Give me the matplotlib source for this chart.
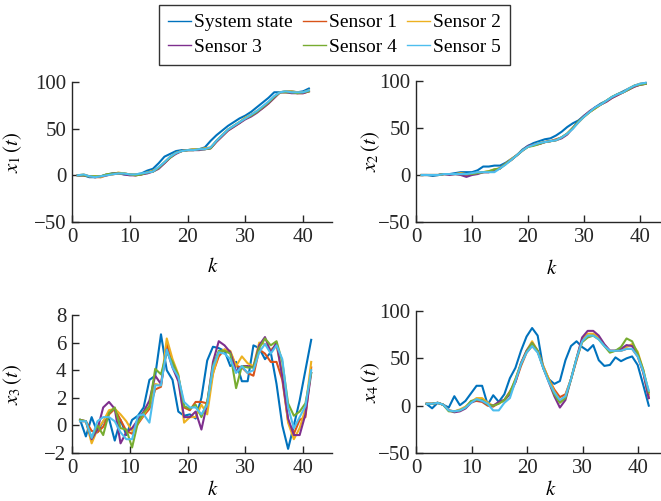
import numpy as np
import matplotlib
matplotlib.use("Agg")
import matplotlib.pyplot as plt

plt.rcParams['font.family'] = ['Liberation Serif', 'DejaVu Serif']
plt.rcParams['mathtext.fontset'] = 'stix'

# Data
names = ["System state", "Sensor 1", "Sensor 2", "Sensor 3", "Sensor 4", "Sensor 5"]
colors = ['#0072BD', '#D95319', '#EDB120', '#7E2F8E', '#77AC30', '#4DBEEE']

k_top = list(range(1, 42))
k_x3 = [v + 0.4 for v in range(1, 42)]
k_x4 = [v - 0.1 for v in range(2, 43)]

x1_state = [0, 0, -2, -2, -1, 1, 2, 2.5, 1, 0.5, 1, 2, 5, 7, 13, 20, 23, 26, 27, 27, 28, 28, 30, 37, 43, 48, 53, 57, 61, 64, 68, 73, 78, 83, 89, 89, 90, 90, 89, 90, 93]
x1_s1 = [0, 0, -1, -2, -2, 0, 1, 2, 2, 1, 0, 1, 3, 4, 8, 13, 19, 24, 26, 27, 27, 28, 28, 29, 36, 42, 48, 52, 56, 61, 64, 68, 72, 77, 83, 89, 89, 89, 88, 88, 90]
x1_s2 = [0, 1, -1, -1, -2, 1, 1, 3, 2, 1, 1, 1, 3, 5, 8, 14, 20, 24, 26, 27, 28, 28, 29, 30, 37, 43, 49, 53, 57, 62, 65, 69, 73, 78, 84, 89, 90, 90, 89, 89, 91]
x1_s3 = [0, 0, -1, -2, -1, 0, 2, 2, 1, 0, 0, 1, 2, 4, 7, 13, 19, 23, 26, 27, 27, 27, 28, 29, 36, 42, 48, 52, 56, 60, 63, 67, 72, 77, 83, 89, 89, 88, 88, 88, 90]
x1_s4 = [0, 0, -1, -1, -1, 1, 2, 2, 2, 1, 0, 1, 3, 4, 8, 14, 19, 24, 26, 27, 27, 28, 28, 29, 37, 43, 49, 53, 57, 61, 64, 68, 73, 78, 84, 89, 89, 89, 88, 89, 90]
x1_s5 = [0, 1, -1, -2, -1, 0, 1, 2, 2, 1, 1, 2, 3, 4, 9, 14, 20, 24, 26, 27, 27, 28, 28, 30, 37, 43, 49, 53, 57, 61, 65, 69, 74, 79, 85, 89, 90, 89, 89, 89, 91]

x2_state = [0, 0, -1, 0, 1, 1, 2, 3, 3, 3, 5, 9, 9, 10, 10, 13, 17, 21, 27, 31, 34, 36, 38, 39, 42, 46, 51, 55, 58, 63, 67, 72, 76, 79, 83, 86, 89, 92, 95, 97, 98]
x2_s1 = [0, 0, 0, 0, 1, 1, 1, 1, 0, 1, 2, 3, 3, 5, 7, 12, 16, 21, 26, 30, 32, 33, 35, 36, 38, 40, 44, 50, 56, 62, 67, 71, 75, 78, 82, 85, 88, 91, 94, 96, 97]
x2_s2 = [0, 0, 0, 0, 1, 1, 1, 2, 1, 1, 2, 3, 4, 6, 7, 12, 17, 21, 26, 30, 32, 34, 35, 36, 37, 40, 44, 50, 56, 62, 67, 71, 75, 79, 83, 86, 88, 92, 95, 97, 97]
x2_s3 = [0, 0, 0, 0, 1, 0, 1, 0, -2, 0, 1, 3, 3, 5, 7, 12, 16, 21, 26, 31, 32, 33, 35, 36, 37, 39, 43, 50, 57, 63, 68, 72, 75, 78, 82, 85, 88, 91, 94, 96, 97]
x2_s4 = [0, 0, 0, 0, 1, 1, 1, 1, 1, 1, 2, 3, 4, 6, 7, 12, 16, 21, 26, 30, 31, 33, 35, 36, 37, 40, 44, 50, 57, 62, 67, 71, 75, 79, 83, 86, 88, 91, 95, 96, 97]
x2_s5 = [0, 0, 0, 0, 1, 1, 1, 1, 1, 2, 3, 3, 3, 3, 7, 11, 16, 21, 26, 30, 32, 34, 35, 36, 37, 40, 44, 49, 56, 62, 67, 72, 75, 79, 83, 86, 88, 92, 95, 97, 98]

x3_state = [0.4, -0.8, 0.6, -0.5, 0.3, 0.5, -1.1, 0.4, -0.7, 0.4, 0.7, 1.3, 3.3, 3.6, 6.6, 4.0, 3.3, 1.0, 0.7, 0.8, 0.5, 2.0, 4.7, 5.7, 5.6, 5.4, 4.3, 4.6, 3.2, 3.2, 5.8, 5.6, 4.8, 5.3, 3.0, 0.0, -1.7, 0.0, 1.8, 4.0, 6.2]
x3_s1 = [0.3, 0.3, -0.4, -0.5, -0.1, 0.8, 1.2, 0.4, -0.4, -0.6, 0.1, 0.7, 1.2, 2.6, 2.8, 5.9, 4.6, 3.5, 1.3, 1.1, 1.7, 1.7, 1.6, 3.8, 5.0, 5.5, 5.3, 4.3, 4.2, 3.8, 3.6, 5.5, 5.2, 4.6, 4.6, 3.3, 0.3, -0.6, 0.4, 0.6, 4.2]
x3_s2 = [0.4, 0.3, -1.3, -0.3, 0.3, 1.1, 1.2, 0.8, 0.3, -0.4, 0.2, 0.8, 1.4, 3.0, 2.9, 6.3, 4.8, 3.7, 0.2, 0.6, 0.6, 1.5, 0.8, 3.7, 5.3, 5.5, 5.4, 4.3, 5.0, 4.5, 4.3, 6.0, 5.9, 5.5, 5.8, 3.7, 0.2, -1.0, -0.2, 1.2, 4.6]
x3_s3 = [0.4, 0.3, -1.0, -0.3, 1.3, 1.7, 1.2, -1.3, -0.5, -0.2, 0.4, 1.0, 1.8, 3.6, 3.0, 5.5, 4.2, 3.2, 0.6, 0.6, 1.0, -0.3, 1.6, 4.6, 6.1, 5.8, 5.3, 3.9, 4.3, 4.3, 4.2, 5.8, 6.4, 5.3, 6.0, 3.5, 0.5, -0.7, -0.7, 0.8, 3.8]
x3_s4 = [0.4, 0.3, -0.9, 0.0, -0.7, 0.9, 1.3, -0.2, -0.3, -1.6, 0.2, 0.9, 1.4, 4.1, 3.7, 5.3, 4.6, 3.6, 1.4, 1.2, 1.5, 0.6, 1.7, 4.3, 5.4, 5.4, 5.2, 2.7, 4.3, 4.2, 4.2, 5.6, 6.3, 5.8, 6.1, 4.6, 1.6, 0.7, 1.0, 1.6, 3.8]
x3_s5 = [0.3, 0.3, -0.9, 0.3, 0.6, 0.6, 0.3, -0.5, -1.0, -1.0, 0.7, 0.8, 0.2, 2.9, 2.9, 5.5, 4.2, 3.5, 1.7, 1.3, 1.3, 0.8, 1.5, 4.2, 5.3, 5.2, 4.8, 3.8, 4.3, 3.8, 4.0, 5.3, 5.9, 5.2, 5.8, 4.8, 1.3, -0.2, 0.6, 1.4, 4.0]

x4_state = [1.8, -2.8, 3, 1, -2, 10, 0.5, 5, 13, 21, 21, 1, 11, 4, 12, 29, 40, 58, 73, 82, 74, 40, 28, 23, 26, 48, 63, 68, 62, 58, 64, 48, 42, 43, 51, 47, 50, 52, 43, 22, 0]
x4_s1 = [2, 2, 3, 1, -5, -6, -5, -2, 4, 5, 4, 0, -1, 3, 6, 15, 25, 42, 56, 63, 57, 42, 28, 17, 9, 12, 28, 48, 68, 73, 75, 72, 64, 58, 58, 58, 60, 60, 52, 35, 8]
x4_s2 = [2, 2, 3, 1, -5, -6, -4, -1, 4, 8, 8, 3, 0, 3, 5, 13, 28, 45, 58, 68, 58, 42, 28, 15, 5, 10, 28, 50, 70, 76, 76, 72, 64, 57, 58, 60, 62, 65, 57, 38, 12]
x4_s3 = [2, 2, 3, 1, -5, -7, -6, -3, 3, 6, 5, 1, 0, 4, 6, 12, 25, 45, 58, 66, 58, 40, 25, 10, -2, 6, 28, 50, 72, 79, 79, 74, 65, 58, 58, 60, 64, 63, 54, 36, 8]
x4_s4 = [2, 2, 3, 1, -6, -6, -5, -2, 5, 6, 6, 1, 0, 2, 6, 14, 28, 44, 57, 66, 58, 40, 26, 12, 3, 8, 28, 50, 67, 72, 74, 70, 63, 56, 58, 62, 71, 68, 55, 38, 14]
x4_s5 = [2, 2, 3, 1, -5, -6, -5, -2, 3, 7, 5, 2, -5, -5, 3, 8, 26, 44, 56, 63, 56, 40, 25, 14, 6, 10, 28, 50, 68, 74, 74, 70, 63, 58, 58, 58, 60, 60, 52, 36, 16]

panels = [
    (k_top, [x1_state, x1_s1, x1_s2, x1_s3, x1_s4, x1_s5], r'$x_1\,(t)$', (-50, 100), [-50, 0, 50, 100]),
    (k_top, [x2_state, x2_s1, x2_s2, x2_s3, x2_s4, x2_s5], r'$x_2\,(t)$', (-50, 100), [-50, 0, 50, 100]),
    (k_x3, [x3_state, x3_s1, x3_s2, x3_s3, x3_s4, x3_s5], r'$x_3\,(t)$', (-2, 8), [-2, 0, 2, 4, 6, 8]),
    (k_x4, [x4_state, x4_s1, x4_s2, x4_s3, x4_s4, x4_s5], r'$x_4\,(t)$', (-50, 100), [-50, 0, 50, 100]),
]

# axes boxes in pixels: left, top, right, bottom
W, H = 661, 501
boxes = [(72, 82, 332, 222), (416, 81, 668, 222), (72, 315, 332, 453), (416, 311, 666, 453)]
ylab_x = [-0.185, -0.135, -0.185, -0.136]
xlab_y = [-0.255, -0.27, -0.2, -0.2]

fig = plt.figure(figsize=(W / 100, H / 100), dpi=100)
axc = '#262626'
handles = []
for i, (kk, series, ylab, ylim, yticks) in enumerate(panels):
    l, t, r, b = boxes[i]
    ax = fig.add_axes([l / W, 1 - b / H, (r - l) / W, (b - t) / H])
    lines = []
    for s, c, n in zip(series, colors, names):
        ln, = ax.plot(kk, s, color=c, lw=1.5, label=n)
        lines.append(ln)
    if i == 0:
        handles = lines
    ax.set_xlim(0, 45)
    ax.set_ylim(*ylim)
    ax.set_xticks([0, 10, 20, 30, 40])
    ax.set_yticks(yticks)
    ax.set_yticklabels([str(v).replace('-', '\u2212') for v in yticks])
    for sp in ['top', 'right']:
        ax.spines[sp].set_visible(False)
    for sp in ['left', 'bottom']:
        ax.spines[sp].set_color(axc)
        ax.spines[sp].set_linewidth(1.0)
    ax.tick_params(direction='in', length=5, width=1.0, colors=axc, labelsize=15, pad=4)
    ax.set_xlabel(r'$k$', fontsize=15)
    ax.set_ylabel(ylab, fontsize=15)
    ax.xaxis.set_label_coords(0.54, xlab_y[i])
    ax.yaxis.set_label_coords(ylab_x[i], 0.5)

# legend: row-wise order System, S1, S2 / S3, S4, S5 -> column-major reorder
order = [0, 3, 1, 4, 2, 5]
leg = fig.legend([handles[j] for j in order], [names[j] for j in order],
                 loc='upper center', bbox_to_anchor=(334.5 / W, 1 - 5 / H),
                 ncol=3, fontsize=14, frameon=True, fancybox=False,
                 handlelength=1.2, handletextpad=0.15, columnspacing=0.5,
                 labelspacing=0.35, borderpad=0.45, borderaxespad=0)
leg.get_frame().set_edgecolor('black')
leg.get_frame().set_linewidth(1.0)
for ln in leg.get_lines():
    ln.set_linewidth(1.0)

fig.savefig('out.png', dpi=100)
